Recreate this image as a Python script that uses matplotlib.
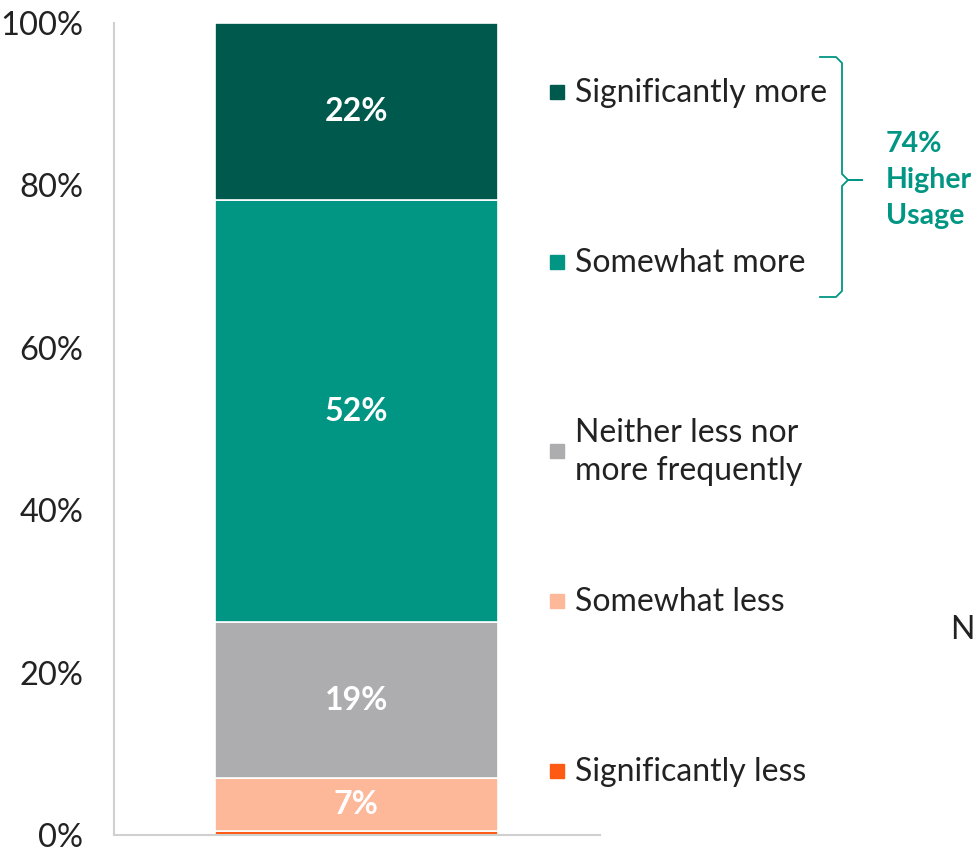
import matplotlib
matplotlib.use("Agg")
import matplotlib.pyplot as plt
from matplotlib.patches import Rectangle
from matplotlib.lines import Line2D
from matplotlib.ticker import FuncFormatter

plt.rcParams['font.family'] = ['Lato', 'DejaVu Sans']

# data, bottom to top
categories = ["Significantly less", "Somewhat less", "Neither less nor\nmore frequently",
              "Somewhat more", "Significantly more"]
values = [0.5, 6.5, 19.2, 52.0, 21.8]
labels = ["", "7%", "19%", "52%", "22%"]
colors = ["#FF5A14", "#FDB799", "#ADADAF", "#009683", "#00594D"]
higher_label = "74%\nHigher\nUsage"

W, H = 974, 848
fig = plt.figure(figsize=(W / 100, H / 100), dpi=100)
ax = fig.add_axes([114 / W, 1 - 835 / H, (600 - 114) / W, (835 - 23) / H])

bottom = 0
for v, lab, c in zip(values, labels, colors):
    ax.bar(0, v, width=1, bottom=bottom, color=c, edgecolor="white", linewidth=1.2)
    if lab:
        ax.text(0, bottom + v / 2, lab, ha="center", va="center", color="white",
                fontsize=23, fontweight="bold")
    bottom += v

ax.set_xlim(-0.857, 0.861)
ax.set_ylim(0, 100)
ax.set_yticks(range(0, 101, 20))
ax.yaxis.set_major_formatter(FuncFormatter(lambda y, p: f"{int(y)}%"))
ax.tick_params(axis="y", length=0, labelsize=23.5, labelcolor="#222222", pad=22)
ax.set_xticks([])
for s in ["top", "right"]:
    ax.spines[s].set_visible(False)
for s in ["left", "bottom"]:
    ax.spines[s].set_color("#D0D0D0")
    ax.spines[s].set_linewidth(1.5)

# legend, drawn by hand at the right
leg_y = [772, 602, 452, 263, 93]
for cat, c, y in zip(categories, colors, leg_y):
    fig.patches.append(Rectangle((550 / W, 1 - (y + 6) / H), 14 / W, 14 / H,
                                 transform=fig.transFigure, color=c))
    fig.text(575 / W, 1 - y / H, cat, ha="left", va="center", fontsize=23,
             color="#222222", linespacing=1.32)

# bracket around the two "more" groups
bc = "#009683"
bx = [820, 836, 842, 842, 848, 862]
by = [57, 57, 63, 174, 180, 180]
fig.add_artist(Line2D([x / W for x in bx], [1 - y / H for y in by],
                      transform=fig.transFigure, color=bc, linewidth=1.3))
by2 = [297, 297, 291, 186, 180, 180]
fig.add_artist(Line2D([x / W for x in bx], [1 - y / H for y in by2],
                      transform=fig.transFigure, color=bc, linewidth=1.3))
fig.text(886 / W, 1 - 180 / H, higher_label, ha="left", va="center", fontsize=20.5,
         fontweight="bold", color=bc, linespacing=1.48)

fig.text(950 / W, 1 - 630 / H, "N", ha="left", va="center", fontsize=23, color="#222222")

fig.savefig("out.png", dpi=100)
